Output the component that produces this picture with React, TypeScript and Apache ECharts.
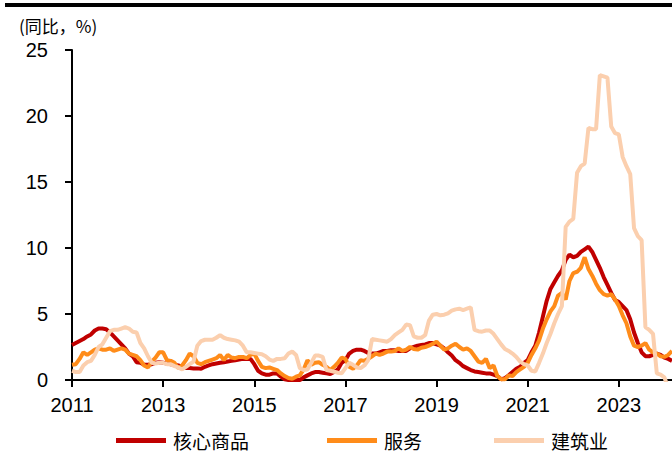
import React, { useEffect, useRef } from "react";
import * as echarts from "echarts";

// Monthly categories, Jan 2011 – Mar 2024
const startYear = 2011;
const endYear = 2024;
const endMonth = 3;
const months: string[] = [];
for (let y = startYear; y <= endYear; y++) {
  for (let m = 1; m <= 12; m++) {
    if (y === endYear && m > endMonth) break;
    months.push(`${y}-${m < 10 ? "0" + m : m}`);
  }
}

const seriesNames = ["核心商品", "服务", "建筑业"];

const coreGoods = [
  2.65, 2.8, 2.95, 3.1, 3.3, 3.45, 3.75, 3.9, 3.9, 3.85, 3.6, 3.3,
  3.0, 2.7, 2.4, 2.0, 1.8, 1.35, 1.3, 1.15, 1.15, 1.2, 1.3, 1.35,
  1.3, 1.25, 1.2, 1.15, 1.1, 1.0, 0.9, 0.9, 0.88, 0.88, 0.85, 1.0,
  1.1, 1.2, 1.25, 1.3, 1.35, 1.4, 1.45, 1.5, 1.55, 1.6, 1.6, 1.6,
  1.2, 0.7, 0.5, 0.4, 0.4, 0.5, 0.5, 0.25, 0.05, 0.0, 0.0, 0.0,
  0.0, 0.2, 0.35, 0.5, 0.6, 0.6, 0.55, 0.5, 0.45, 0.6, 0.8, 1.3,
  1.5, 2.0, 2.2, 2.3, 2.3, 2.2, 2.05, 2.0, 2.0, 2.1, 2.2, 2.2,
  2.25, 2.25, 2.2, 2.2, 2.2, 2.4, 2.5, 2.6, 2.65, 2.7, 2.8, 2.8,
  2.7, 2.6, 2.4, 2.1, 1.85, 1.5, 1.3, 1.05, 0.9, 0.75, 0.65, 0.6,
  0.55, 0.5, 0.5, 0.4, 0.3, 0.05, 0.15, 0.35, 0.6, 0.85, 1.0, 1.3,
  1.5, 2.1, 2.6, 3.6, 4.8, 6.0, 6.9, 7.4, 7.9, 8.3, 9.1, 9.5,
  9.3, 9.4, 9.7, 9.9, 10.1, 9.7, 9.1, 8.5, 7.8, 7.2, 6.6, 6.06,
  5.9, 5.6, 5.3, 4.6, 3.6, 2.8, 2.1, 1.8, 1.8, 1.9, 2.0, 1.9,
  1.7, 1.6, 1.45,
];

const services = [
  1.15, 1.2, 1.6, 2.1, 1.9, 2.1, 2.3, 2.4, 2.3, 2.3, 2.4, 2.2,
  2.3, 2.4, 2.3, 2.0, 1.9, 1.8, 1.5, 1.1, 0.95, 1.4, 1.7, 2.1,
  2.1, 1.5, 1.45, 1.3, 0.9, 1.1, 1.5, 2.0, 1.8, 1.3, 1.2, 1.35,
  1.45, 1.55, 1.65, 1.9, 1.5, 1.9, 1.7, 1.65, 1.75, 1.75, 1.65, 1.9,
  2.0, 1.45, 1.0, 0.9, 0.95, 0.85, 0.75, 0.5, 0.3, 0.15, 0.1, 0.25,
  0.35, 0.8, 1.5, 1.15, 1.3, 1.35, 1.15, 1.0, 0.76, 1.0, 1.3, 1.7,
  1.6, 1.0, 0.85, 1.1, 1.5, 1.45, 1.6, 1.8, 2.0, 1.9, 2.0, 2.15,
  2.15, 2.2, 2.4, 2.2, 2.3, 2.5, 2.35, 2.3, 2.45, 2.5, 2.6, 2.75,
  2.9, 2.6, 2.3, 2.4, 2.6, 2.75, 2.5, 2.3, 2.4, 2.2, 1.8, 1.4,
  1.3, 1.6, 0.9, 1.1, 0.3, 0.05, 0.05, 0.35, 0.3, 0.6, 0.8, 1.0,
  1.3, 1.9, 2.4, 3.0, 3.9, 4.6, 5.2, 5.6, 6.4, 6.6, 6.1, 7.5,
  8.1, 8.2, 8.5, 9.3, 8.4, 7.9, 7.3, 6.8, 6.5, 6.4, 6.5, 6.1,
  5.6, 4.9, 4.3, 3.3, 2.6, 2.5, 2.6, 2.8, 2.3, 2.1, 2.0, 1.8,
  1.75, 1.9, 2.2,
];

const construction = [
  0.7, 0.6, 0.6, 1.1, 1.35, 1.45, 1.9, 2.5, 2.7, 3.2, 3.7, 3.8,
  3.8, 3.9, 4.0, 3.9, 3.65, 3.6, 2.8, 2.4, 1.8, 1.3, 1.25, 1.3,
  1.3, 1.2, 1.2, 1.05, 0.95, 0.8, 1.0, 1.2, 1.4, 2.6, 2.95, 3.05,
  3.05, 3.05, 3.2, 3.4, 3.2, 3.1, 3.05, 3.0, 2.9, 2.6, 2.1, 2.1,
  2.05, 2.0, 1.95, 1.8, 1.55, 1.45, 1.6, 1.6, 1.65, 2.0, 2.15, 1.9,
  0.9, 0.76, 0.8, 1.3, 1.85, 1.85, 1.75, 0.76, 0.7, 0.63, 0.55, 0.5,
  0.9, 1.3, 1.15, 0.95, 0.9, 1.1, 1.5, 3.1, 3.05, 3.0, 2.95, 2.9,
  3.1, 3.4, 3.6, 3.8, 4.2, 4.15, 3.3, 3.2, 3.2, 3.4, 4.5, 4.95,
  5.0, 4.9, 4.95, 5.05, 5.25, 5.35, 5.4, 5.3, 5.4, 5.5, 3.8, 3.7,
  3.66, 3.75, 3.75, 3.5, 3.1, 2.7, 2.35, 2.2, 2.0, 1.75, 1.4, 1.2,
  1.1, 0.7, 0.65, 1.3, 2.0, 2.8, 3.5, 4.3, 5.0, 5.6, 11.6, 12.0,
  12.2, 15.7, 16.2, 16.4, 19.1, 19.0, 19.0, 23.1, 23.0, 22.9, 19.2, 18.7,
  18.6, 16.9, 16.2, 15.6, 11.5, 10.9, 10.6, 4.0, 3.8, 3.5, 0.5, 0.4,
  0.2, -0.6, -1.5,
];

const yTicks = { min: 0, max: 25, interval: 5 };

const colors = ["#C00000", "#FF8C1A", "#FBCFAE"];
const numFont = "Liberation Sans, Arial, sans-serif";
const cjkFont = "Noto Sans CJK SC, sans-serif";

export default function App() {
  const ref = useRef<HTMLDivElement>(null);
  useEffect(() => {
    const chart = echarts.init(ref.current!, null, { renderer: "svg" });
    const showEvery2Years = (i: number) => i % 24 === 0;
    const legendBase = {
      top: 429,
      padding: 2,
      itemWidth: 50,
      itemHeight: 5,
      icon: "rect",
      textStyle: { fontSize: 19, color: "#000", fontFamily: cjkFont, padding: [0, 0, 0, 2] },
    };
    chart.setOption({
      animation: false,
      color: colors,
      title: {
        text: "(同比，%)",
        left: 17,
        top: 15,
        padding: 2,
        textStyle: { fontSize: 17, fontWeight: "normal", color: "#000", fontFamily: cjkFont },
      },
      graphic: [
        { type: "rect", shape: { x: 5, y: 3, width: 667, height: 4 }, style: { fill: "#000" } },
      ],
      legend: [
        { ...legendBase, left: 114, data: [seriesNames[0]] },
        { ...legendBase, left: 325, data: [seriesNames[1]] },
        { ...legendBase, left: 492, data: [seriesNames[2]] },
      ],
      grid: { left: 72, right: 0, top: 50, bottom: 75, containLabel: false },
      xAxis: {
        type: "category",
        data: months,
        boundaryGap: false,
        axisLine: { lineStyle: { color: "#000", width: 2 } },
        axisTick: { show: true, interval: showEvery2Years, length: 7, lineStyle: { color: "#000", width: 2 } },
        axisLabel: {
          interval: showEvery2Years,
          formatter: (v: string) => v.slice(0, 4),
          color: "#000",
          fontSize: 20,
          fontFamily: numFont,
          margin: 15,
        },
        splitLine: { show: false },
      },
      yAxis: {
        type: "value",
        min: yTicks.min,
        max: yTicks.max,
        interval: yTicks.interval,
        axisLine: { show: true, lineStyle: { color: "#000", width: 2 } },
        axisTick: { show: true, length: 7, lineStyle: { color: "#000", width: 2 } },
        axisLabel: { color: "#000", fontSize: 20, fontFamily: numFont, margin: 24 },
        splitLine: { show: false },
      },
      series: [
        { name: seriesNames[0], type: "line", data: coreGoods, symbol: "none", lineStyle: { width: 4, color: colors[0] }, z: 2 },
        { name: seriesNames[1], type: "line", data: services, symbol: "none", lineStyle: { width: 4, color: colors[1] }, z: 3 },
        { name: seriesNames[2], type: "line", data: construction, symbol: "none", lineStyle: { width: 4, color: colors[2] }, z: 4 },
      ],
    });
    return () => chart.dispose();
  }, []);
  return <div ref={ref} style={{ position: "absolute", left: 0, top: 0, width: 672, height: 455 }} />;
}
